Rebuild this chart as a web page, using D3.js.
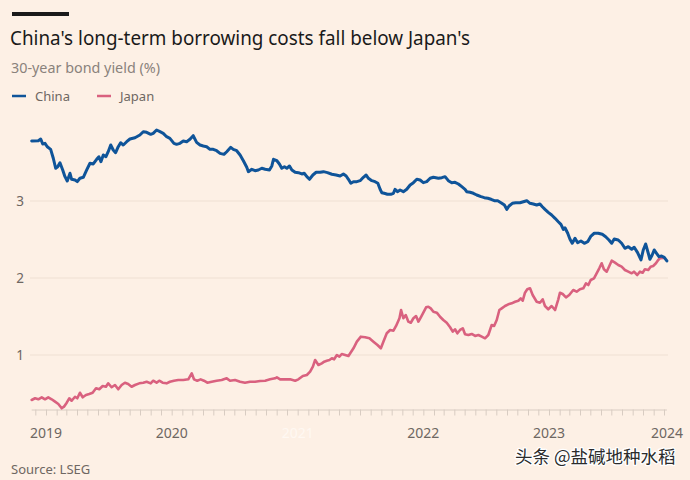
<!DOCTYPE html>
<html>
<head>
<meta charset="utf-8">
<script src="https://cdn.jsdelivr.net/npm/d3@7"></script>
<style>
  html, body { margin: 0; padding: 0; background: #fdf0e5; }
  svg { display: block; }
</style>
</head>
<body>
<script>
// ---- Data (decimal year, 30-year yield %) ----
const chinaYield = [
[2018.886,3.779],[2018.939,3.783],[2018.958,3.805],[2018.974,3.740],[2018.992,3.749],
[2019.010,3.705],[2019.037,3.671],[2019.058,3.555],[2019.077,3.425],[2019.093,3.445],
[2019.111,3.497],[2019.133,3.403],[2019.151,3.316],[2019.169,3.260],[2019.191,3.360],
[2019.204,3.282],[2019.231,3.273],[2019.249,3.251],[2019.270,3.295],[2019.297,3.308],
[2019.324,3.403],[2019.350,3.490],[2019.376,3.481],[2019.403,3.542],[2019.421,3.575],
[2019.437,3.510],[2019.456,3.597],[2019.477,3.575],[2019.495,3.640],[2019.515,3.727],
[2019.535,3.662],[2019.554,3.627],[2019.575,3.705],[2019.594,3.757],[2019.615,3.727],
[2019.642,3.770],[2019.668,3.805],[2019.708,3.822],[2019.747,3.857],[2019.774,3.900],
[2019.801,3.892],[2019.833,3.866],[2019.853,3.879],[2019.880,3.922],[2019.907,3.900],
[2019.933,3.879],[2019.960,3.835],[2019.986,3.814],[2020.018,3.749],[2020.039,3.736],
[2020.066,3.749],[2020.092,3.779],[2020.119,3.770],[2020.145,3.801],[2020.171,3.848],
[2020.198,3.762],[2020.225,3.727],[2020.251,3.714],[2020.278,3.705],[2020.304,3.671],
[2020.330,3.671],[2020.357,3.653],[2020.384,3.619],[2020.415,3.606],[2020.437,3.640],
[2020.469,3.697],[2020.489,3.671],[2020.516,3.653],[2020.543,3.597],[2020.569,3.523],
[2020.596,3.438],[2020.609,3.381],[2020.636,3.412],[2020.662,3.394],[2020.688,3.403],
[2020.715,3.425],[2020.742,3.412],[2020.776,3.403],[2020.795,3.455],[2020.808,3.542],
[2020.835,3.523],[2020.855,3.481],[2020.874,3.425],[2020.895,3.445],[2020.914,3.425],
[2020.935,3.455],[2020.954,3.403],[2020.980,3.373],[2021.006,3.368],[2021.033,3.351],
[2021.052,3.360],[2021.073,3.316],[2021.094,3.282],[2021.121,3.338],[2021.147,3.373],
[2021.179,3.373],[2021.205,3.381],[2021.237,3.368],[2021.272,3.347],[2021.306,3.338],
[2021.338,3.325],[2021.364,3.351],[2021.386,3.325],[2021.404,3.282],[2021.423,3.230],
[2021.444,3.251],[2021.471,3.251],[2021.497,3.264],[2021.523,3.308],[2021.545,3.338],
[2021.563,3.295],[2021.590,3.264],[2021.616,3.251],[2021.638,3.230],[2021.656,3.152],
[2021.670,3.108],[2021.688,3.100],[2021.714,3.087],[2021.741,3.087],[2021.762,3.100],
[2021.775,3.152],[2021.794,3.121],[2021.815,3.143],[2021.841,3.121],[2021.868,3.152],
[2021.895,3.208],[2021.921,3.238],[2021.948,3.282],[2021.974,3.273],[2022.000,3.238],
[2022.027,3.251],[2022.054,3.295],[2022.080,3.308],[2022.120,3.295],[2022.147,3.303],
[2022.173,3.316],[2022.199,3.264],[2022.226,3.238],[2022.252,3.243],[2022.279,3.221],
[2022.306,3.186],[2022.332,3.152],[2022.345,3.121],[2022.372,3.113],[2022.398,3.100],
[2022.425,3.078],[2022.459,3.056],[2022.485,3.043],[2022.513,3.035],[2022.539,3.022],
[2022.565,3.004],[2022.592,3.004],[2022.618,2.978],[2022.645,2.948],[2022.664,2.892],
[2022.682,2.935],[2022.708,2.970],[2022.735,2.978],[2022.769,2.978],[2022.796,2.991],
[2022.823,3.004],[2022.849,2.970],[2022.875,2.961],[2022.902,2.948],[2022.928,2.961],
[2022.947,2.926],[2022.968,2.892],[2022.994,2.853],[2023.021,2.818],[2023.048,2.775],
[2023.074,2.731],[2023.095,2.697],[2023.114,2.632],[2023.127,2.653],[2023.149,2.581],
[2023.167,2.503],[2023.185,2.451],[2023.207,2.516],[2023.228,2.458],[2023.254,2.481],
[2023.281,2.451],[2023.308,2.471],[2023.334,2.545],[2023.360,2.581],[2023.392,2.581],
[2023.424,2.568],[2023.451,2.536],[2023.477,2.494],[2023.499,2.451],[2023.519,2.506],
[2023.551,2.494],[2023.578,2.451],[2023.604,2.386],[2023.631,2.406],[2023.658,2.373],
[2023.678,2.399],[2023.705,2.329],[2023.732,2.234],[2023.750,2.364],[2023.769,2.442],
[2023.790,2.321],[2023.803,2.243],[2023.821,2.299],[2023.837,2.364],[2023.856,2.321],
[2023.875,2.277],[2023.896,2.286],[2023.917,2.269],[2023.938,2.221]
];

const japanYield = [
[2018.886,0.416],[2018.913,0.438],[2018.939,0.425],[2018.966,0.451],[2018.992,0.425],
[2019.018,0.451],[2019.045,0.425],[2019.072,0.394],[2019.098,0.364],[2019.125,0.308],
[2019.143,0.329],[2019.165,0.381],[2019.185,0.438],[2019.204,0.406],[2019.231,0.458],
[2019.249,0.438],[2019.270,0.510],[2019.292,0.451],[2019.318,0.481],[2019.344,0.494],
[2019.371,0.510],[2019.398,0.568],[2019.424,0.555],[2019.451,0.597],[2019.477,0.588],
[2019.495,0.632],[2019.522,0.581],[2019.549,0.610],[2019.575,0.555],[2019.602,0.610],
[2019.628,0.640],[2019.654,0.623],[2019.681,0.588],[2019.708,0.610],[2019.742,0.632],
[2019.774,0.640],[2019.801,0.653],[2019.833,0.632],[2019.853,0.666],[2019.880,0.640],
[2019.901,0.666],[2019.928,0.640],[2019.960,0.632],[2019.986,0.653],[2020.018,0.666],
[2020.052,0.675],[2020.092,0.675],[2020.132,0.684],[2020.159,0.762],[2020.177,0.684],
[2020.203,0.666],[2020.230,0.684],[2020.256,0.666],[2020.283,0.640],[2020.318,0.653],
[2020.357,0.666],[2020.397,0.675],[2020.437,0.697],[2020.463,0.666],[2020.503,0.675],
[2020.543,0.653],[2020.582,0.640],[2020.622,0.653],[2020.662,0.653],[2020.702,0.662],
[2020.742,0.666],[2020.781,0.684],[2020.821,0.697],[2020.835,0.710],[2020.861,0.684],
[2020.901,0.684],[2020.940,0.684],[2020.980,0.666],[2021.006,0.684],[2021.041,0.727],
[2021.073,0.740],[2021.099,0.783],[2021.121,0.848],[2021.139,0.935],[2021.165,0.870],
[2021.192,0.892],[2021.211,0.913],[2021.232,0.926],[2021.253,0.935],[2021.272,0.957],
[2021.290,0.944],[2021.312,1.000],[2021.332,0.978],[2021.351,1.013],[2021.378,1.000],
[2021.404,0.987],[2021.444,1.087],[2021.471,1.173],[2021.503,1.238],[2021.537,1.230],
[2021.571,1.217],[2021.603,1.173],[2021.635,1.130],[2021.662,1.087],[2021.682,1.173],
[2021.709,1.282],[2021.736,1.325],[2021.762,1.316],[2021.783,1.377],[2021.810,1.477],
[2021.823,1.584],[2021.841,1.477],[2021.860,1.519],[2021.881,1.433],[2021.900,1.419],
[2021.921,1.477],[2021.942,1.506],[2021.961,1.433],[2021.980,1.490],[2022.000,1.550],
[2022.022,1.619],[2022.040,1.627],[2022.059,1.606],[2022.080,1.562],[2022.107,1.550],
[2022.133,1.497],[2022.159,1.455],[2022.186,1.419],[2022.213,1.360],[2022.234,1.303],
[2022.252,1.334],[2022.271,1.282],[2022.292,1.325],[2022.314,1.347],[2022.332,1.269],
[2022.358,1.260],[2022.385,1.273],[2022.412,1.247],[2022.438,1.260],[2022.465,1.238],
[2022.491,1.217],[2022.517,1.260],[2022.544,1.390],[2022.563,1.377],[2022.584,1.455],
[2022.605,1.584],[2022.624,1.606],[2022.650,1.636],[2022.676,1.658],[2022.703,1.671],
[2022.730,1.692],[2022.756,1.705],[2022.775,1.736],[2022.791,1.705],[2022.809,1.809],
[2022.827,1.853],[2022.849,1.866],[2022.870,1.779],[2022.902,1.692],[2022.928,1.679],
[2022.950,1.723],[2022.968,1.636],[2022.994,1.594],[2023.021,1.636],[2023.048,1.584],
[2023.074,1.723],[2023.087,1.809],[2023.109,1.792],[2023.135,1.749],[2023.161,1.779],
[2023.193,1.844],[2023.220,1.822],[2023.246,1.853],[2023.273,1.866],[2023.294,1.931],
[2023.313,1.909],[2023.332,1.974],[2023.358,1.996],[2023.379,2.061],[2023.400,2.126],
[2023.419,2.191],[2023.437,2.113],[2023.459,2.082],[2023.480,2.156],[2023.499,2.225],
[2023.525,2.199],[2023.551,2.169],[2023.578,2.147],[2023.604,2.104],[2023.631,2.082],
[2023.658,2.061],[2023.676,2.082],[2023.702,2.039],[2023.724,2.082],[2023.745,2.069],
[2023.763,2.113],[2023.790,2.104],[2023.809,2.147],[2023.829,2.156],[2023.851,2.191],
[2023.869,2.234],[2023.883,2.256],[2023.913,2.260]
];

const yTicks = [1, 2, 3];
const yearLabels = [2019, 2020, 2021, 2022, 2023, 2024];

const titleText = "China's long-term borrowing costs fall below Japan's";
const subtitleText = "30-year bond yield (%)";
const sourceText = "Source: LSEG";
const watermarkText = "头条 @盐碱地种水稻";
const seriesNames = ["China", "Japan"];

// ---- Helpers ----
function toDate(dy) {
  const y = Math.floor(dy);
  const f = dy - y;
  const a = Date.UTC(y, 0, 1), b = Date.UTC(y + 1, 0, 1);
  return new Date(a + f * (b - a));
}

const W = 690, H = 480;
const colors = { China: "#0f5499", Japan: "#d9617f" };
const FONT = "'Noto Sans', 'DejaVu Sans', sans-serif";

const svg = d3.select("body").append("svg")
  .attr("width", W).attr("height", H)
  .style("background", "#fdf0e5");

svg.append("rect").attr("width", W).attr("height", H).attr("fill", "#fdf0e5");

const x = d3.scaleUtc()
  .domain([toDate(2019), toDate(2023)])
  .range([46, 549]);
const y = d3.scaleLinear()
  .domain([0, 3])
  .range([432, 201]);

const xStart = toDate(chinaYield[0][0]);
const xEnd = toDate(chinaYield[chinaYield.length - 1][0]);

// Header
svg.append("rect").attr("x", 12).attr("y", 12).attr("width", 57).attr("height", 4).attr("fill", "#1a1a1a");
svg.append("text").attr("x", 10).attr("y", 44.5)
  .attr("font-family", FONT).attr("font-size", 20).attr("fill", "#1a1a1a")
  .attr("textLength", 460).attr("lengthAdjust", "spacingAndGlyphs")
  .text(titleText);
svg.append("text").attr("x", 11).attr("y", 72.5)
  .attr("font-family", FONT).attr("font-size", 14.5).attr("fill", "#8a827c")
  .attr("textLength", 149).attr("lengthAdjust", "spacingAndGlyphs")
  .text(subtitleText);

// Legend
const legend = svg.append("g");
const legX = [12, 97];
const legTX = [35, 120];
seriesNames.forEach((n, i) => {
  legend.append("line").attr("x1", legX[i]).attr("x2", legX[i] + 14)
    .attr("y1", 96).attr("y2", 96).attr("stroke", colors[n]).attr("stroke-width", 2.5);
  legend.append("text").attr("x", legTX[i]).attr("y", 100.5)
    .attr("font-family", FONT).attr("font-size", 13).attr("fill", "#6e6762")
    .text(n);
});

// Gridlines
svg.append("g").selectAll("line").data(yTicks).join("line")
  .attr("x1", 30).attr("x2", 668)
  .attr("y1", d => y(d)).attr("y2", d => y(d))
  .attr("stroke", "#efe0d3").attr("stroke-width", 1);

svg.append("g").selectAll("text").data(yTicks).join("text")
  .attr("x", 24).attr("y", d => y(d) + 5)
  .attr("text-anchor", "end")
  .attr("font-family", FONT).attr("font-size", 13.5).attr("fill", "#6e6762")
  .text(d => d);

// X axis (monthly ticks)
const axisY = 409.5;
const axisG = svg.append("g").attr("transform", `translate(0,${axisY})`);
const months = d3.utcMonth.range(d3.utcMonth.ceil(xStart), xEnd);
axisG.call(d3.axisBottom(x).tickValues(months).tickSize(6).tickFormat(""))
  .call(g => g.select(".domain").remove());
axisG.selectAll(".tick line").attr("stroke", "#d8ccc2");
axisG.append("line").attr("x1", x(xStart)).attr("x2", x(xEnd))
  .attr("y1", 0.5).attr("y2", 0.5).attr("stroke", "#d8ccc2");

svg.append("g").selectAll("text").data(yearLabels).join("text")
  .attr("x", d => d === 2024 ? 683 : x(toDate(d)))
  .attr("y", 438)
  .attr("text-anchor", d => d === 2024 ? "end" : "middle")
  .attr("font-family", FONT).attr("font-size", 14).attr("fill", d => d === 2021 ? "#fff8f2" : "#6e6762")
  .text(d => d);

// Lines
const line = d3.line().x(d => x(toDate(d[0]))).y(d => y(d[1])).curve(d3.curveLinear);
svg.append("path").datum(japanYield).attr("d", line)
  .attr("fill", "none").attr("stroke", colors.Japan).attr("stroke-width", 2.6)
  .attr("stroke-linejoin", "round").attr("stroke-linecap", "round");
svg.append("path").datum(chinaYield).attr("d", line)
  .attr("fill", "none").attr("stroke", colors.China).attr("stroke-width", 3)
  .attr("stroke-linejoin", "round").attr("stroke-linecap", "round");

// Source
svg.append("text").attr("x", 11).attr("y", 473.5)
  .attr("font-family", FONT).attr("font-size", 13).attr("fill", "#6e6762")
  .text(sourceText);

// Watermark
svg.append("text").attr("x", 515).attr("y", 463)
  .attr("font-family", "'Noto Sans CJK SC', sans-serif").attr("font-size", 17.5)
  .attr("fill", "#2b2b2b").attr("stroke", "#ffffff").attr("stroke-width", 2.5)
  .attr("paint-order", "stroke").attr("stroke-linejoin", "round")
  .text(watermarkText);
</script>
</body>
</html>
